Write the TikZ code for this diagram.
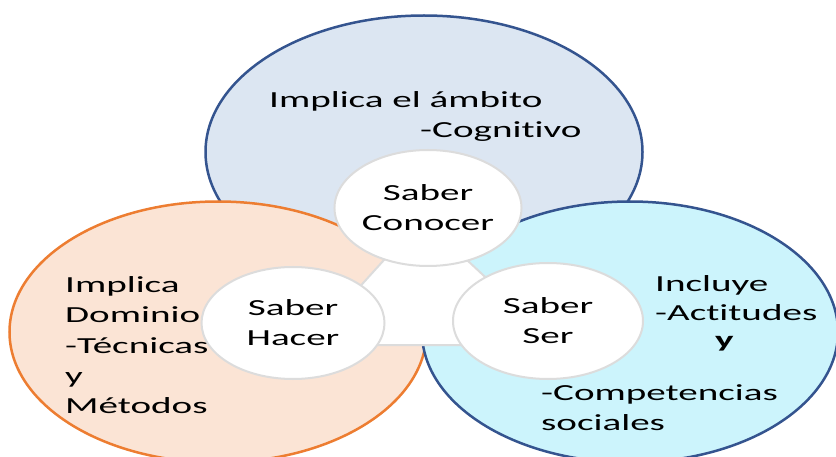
\documentclass[tikz,border=0pt]{standalone}
\usepackage{fontspec}
\setmainfont{Carlito}[FakeStretch=1.7, Ligatures=NoCommon]
\usetikzlibrary{shapes.geometric}
\definecolor{bluedge}{HTML}{34548F}
\definecolor{orangedge}{HTML}{ED7D31}
\definecolor{topfill}{HTML}{DCE6F2}
\definecolor{leftfill}{HTML}{FBE4D5}
\definecolor{rightfill}{HTML}{CCF4FC}
\definecolor{graylin}{HTML}{DCDCDC}
\tikzset{
  bigc/.style={ellipse, inner sep=0pt, line width=2.5pt},
  smallc/.style={ellipse, inner sep=0pt, fill=white, draw=graylin, line width=2pt, align=center, font=\fontsize{23}{30}\selectfont},
  txt/.style={anchor=base west, inner sep=0pt, font=\fontsize{23}{30}\selectfont}
}
\begin{document}
\begin{tikzpicture}[x=1pt,y=-1pt]
\useasboundingbox (0,0) rectangle (836,457);
\fill[white] (0,0) rectangle (836,457);
% big circles
\node[bigc, draw=bluedge, fill=topfill, minimum width=437pt, minimum height=273pt] (top) at (424,152) {};
\node[bigc, draw=orangedge, fill=leftfill, minimum width=417pt, minimum height=261pt] (left) at (218,332) {};
\node[bigc, draw=bluedge, fill=rightfill, minimum width=416pt, minimum height=261pt] (right) at (630,332) {};
% central triangle
\coordinate (ta) at (422,218);
\coordinate (tb) at (307,345);
\coordinate (tc) at (558,345);
\filldraw[fill=white, draw=graylin, line width=2pt, line join=round] (ta) -- (tb) -- (tc) -- cycle;
% small circles
\node[smallc, minimum width=187pt, minimum height=116pt] (conocer) at (428,208) {Saber\\Conocer};
\node[smallc, minimum width=183pt, minimum height=112pt] (hacer) at (293,323) {Saber\\Hacer};
\node[smallc, minimum width=190pt, minimum height=116pt] (ser) at (548,321) {Saber\\Ser};
% texts
\node[txt] (t1) at (269,108) {Implica el ámbito};
\node[txt] (t2) at (420,138) {-Cognitivo};
\node[txt] (l1) at (65,293) {Implica};
\node[txt] (l2) at (65,323) {Dominio};
\node[txt] (l3) at (65,353) {-Técnicas};
\node[txt] (l4) at (65,383) {y};
\node[txt] (l5) at (65,413) {Métodos};
\node[txt] (r1) at (655,292) {Incluye};
\node[txt] (r2) at (655,321) {-Actitudes};
\node[txt, font=\fontsize{23}{30}\selectfont\bfseries] (r3) at (715,348) {y};
\node[txt] (r4) at (541,400) {-Competencias};
\node[txt] (r5) at (541,430) {sociales};
\end{tikzpicture}
\end{document}
